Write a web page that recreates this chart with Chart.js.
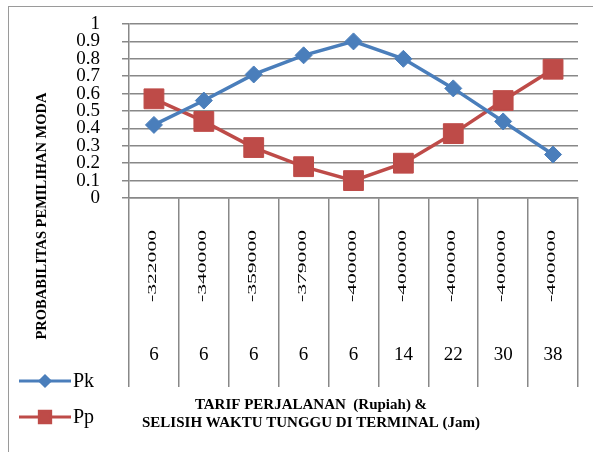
<!DOCTYPE html>
<html>
<head>
<meta charset="utf-8">
<script src="https://cdn.jsdelivr.net/npm/chart.js@4.4.1/dist/chart.umd.min.js"></script>
<style>
  html, body { margin: 0; padding: 0; background: #fff; overflow: hidden; }
  #wrap { position: relative; width: 593px; height: 452px; }
  #frame { position: absolute; left: 8px; top: 6px; width: 600px; height: 460px;
           border-left: 1px solid #9a9a9a; border-top: 1px solid #9a9a9a; }
  canvas { position: absolute; left: 0; top: 0; }
</style>
</head>
<body>
<div id="wrap">
  <div id="frame"></div>
  <canvas id="chart" width="593" height="452"></canvas>
</div>
<script>
// categories (two levels)
const tarif = ['-322000', '-340000', '-359000', '-379000', '-400000', '-400000', '-400000', '-400000', '-400000'];
const waktu = ['6', '6', '6', '6', '6', '14', '22', '30', '38'];

// series
const pk = [0.42, 0.56, 0.71, 0.82, 0.90, 0.80, 0.63, 0.44, 0.25];
const pp = [0.57, 0.44, 0.29, 0.18, 0.10, 0.20, 0.37, 0.56, 0.74];

// y tick labels
const yTicks = ['0', '0.1', '0.2', '0.3', '0.4', '0.5', '0.6', '0.7', '0.8', '0.9', '1'];

// axis titles
const yTitle = 'PROBABILITAS PEMILIHAN MODA';
const xTitle = ['TARIF PERJALANAN  (Rupiah) &', 'SELISIH WAKTU TUNGGU DI TERMINAL (Jam)'];

const blue = '#4A7EBB';
const red = '#BE4B48';
const gridColor = '#888888';
const serif = '"Liberation Serif", "Times New Roman", serif';

// Two-level category labels under the axis, plus the axis titles
const categoryLabels = {
  id: 'categoryLabels',
  afterDraw(chart) {
    const ctx = chart.ctx;
    const x = chart.scales.x;
    ctx.save();
    ctx.fillStyle = '#000';
    tarif.forEach((t, i) => {
      const px = x.getPixelForValue(i);
      ctx.save();
      ctx.translate(px - 1, 266);
      ctx.rotate(-Math.PI / 2);
      ctx.scale(1.8, 1);
      ctx.font = '12px ' + serif;
      ctx.textAlign = 'center';
      ctx.textBaseline = 'middle';
      ctx.fillText(t, 0, 0);
      ctx.restore();

      ctx.font = '19px ' + serif;
      ctx.textAlign = 'center';
      ctx.textBaseline = 'middle';
      ctx.fillText(waktu[i], px, 355);
    });

    ctx.font = 'bold 15px ' + serif;
    ctx.textAlign = 'center';
    ctx.textBaseline = 'middle';
    ctx.fillText(xTitle[0], 311, 405);
    ctx.fillText(xTitle[1], 311, 423);

    ctx.translate(42, 216);
    ctx.rotate(-Math.PI / 2);
    ctx.font = 'bold 14.5px ' + serif;
    ctx.fillText(yTitle, 0, 0);
    ctx.restore();
  }
};

// Legend drawn at the lower left
const sideLegend = {
  id: 'sideLegend',
  afterDraw(chart) {
    const ctx = chart.ctx;
    const rows = [381, 417];
    chart.data.datasets.forEach((ds, i) => {
      const y = rows[i];
      ctx.save();
      ctx.strokeStyle = ds.borderColor;
      ctx.lineWidth = 3;
      ctx.beginPath();
      ctx.moveTo(19, y);
      ctx.lineTo(71, y);
      ctx.stroke();
      ctx.fillStyle = ds.backgroundColor;
      ctx.strokeStyle = ds.borderColor;
      Chart.helpers.drawPoint(ctx, {
        pointStyle: ds.pointStyle,
        radius: ds.pointStyle === 'rect' ? 8 : 5,
        rotation: 0,
        borderWidth: 1
      }, 45, y);
      ctx.fillStyle = '#000';
      ctx.font = '20px ' + serif;
      ctx.textAlign = 'left';
      ctx.textBaseline = 'middle';
      ctx.fillText(ds.label, 73, y + 1);
      ctx.restore();
    });
  }
};

const ctx = document.getElementById('chart').getContext('2d');
new Chart(ctx, {
  type: 'line',
  data: {
    labels: tarif.map((t, i) => [t, waktu[i]]),
    datasets: [
      {
        label: 'Pk',
        data: pk,
        borderColor: blue,
        backgroundColor: blue,
        borderWidth: 3.5,
        pointStyle: 'rectRot',
        pointRadius: 8.5,
        pointBorderWidth: 1,
        tension: 0
      },
      {
        label: 'Pp',
        data: pp,
        borderColor: red,
        backgroundColor: red,
        borderWidth: 3.5,
        pointStyle: 'rect',
        pointRadius: 14,
        pointBorderWidth: 1,
        tension: 0
      }
    ]
  },
  options: {
    responsive: false,
    animation: false,
    layout: { autoPadding: false, padding: { top: 24, right: 15, bottom: 65, left: 20 } },
    plugins: {
      legend: { display: false },
      tooltip: { enabled: false }
    },
    scales: {
      x: {
        offset: true,
        ticks: { display: false },
        grid: {
          offset: true,
          drawOnChartArea: false,
          drawTicks: true,
          tickLength: 189,
          color: gridColor,
          lineWidth: 1.5
        },
        border: { display: true, color: gridColor, width: 1.5 }
      },
      y: {
        min: 0,
        max: 1,
        afterFit(scale) {
          scale.width = 109;
          // the label padding should not push the plot down
          scale.paddingTop = 8;
          scale.paddingBottom = 8;
        },
        ticks: {
          stepSize: 0.1,
          autoSkip: false,
          padding: 22,
          color: '#000',
          font: { family: serif, size: 19, lineHeight: 0.8 },
          callback: (v, i) => yTicks[i]
        },
        grid: { color: gridColor, lineWidth: 1.5, tickLength: 7 },
        border: { display: true, color: gridColor, width: 1.5 }
      }
    }
  },
  plugins: [categoryLabels, sideLegend]
});
</script>
</body>
</html>
